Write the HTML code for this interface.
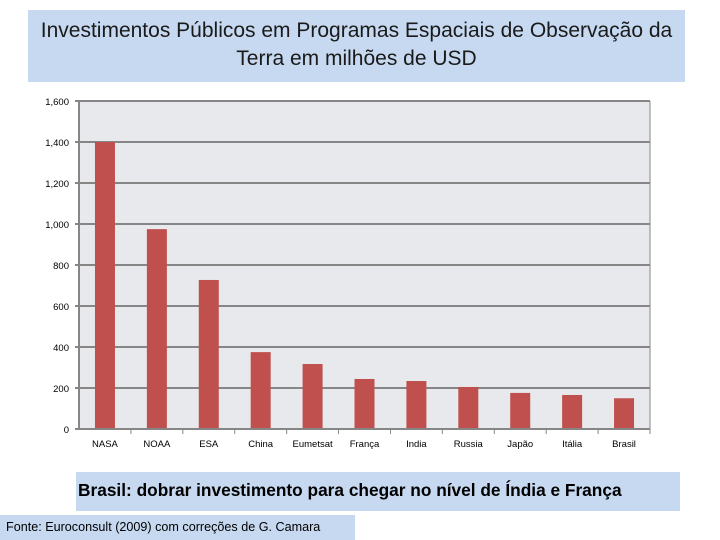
<!DOCTYPE html>
<html><head><meta charset="utf-8"><style>
body{margin:0;width:720px;height:540px;background:#fff;position:relative;overflow:hidden;font-family:"Liberation Sans","DejaVu Sans",sans-serif}
.box{position:absolute;background:#c6d9f0;text-align:center;color:#1a1a1a}
</style></head><body>
<div class="box" style="left:28px;top:10px;width:657px;height:72px;font-size:21px;line-height:28px;padding-top:7px;box-sizing:border-box;white-space:nowrap">Investimentos Públicos em Programas Espaciais de Observação da<br>Terra em milhões de USD</div>
<svg id="chart" width="720" height="540" style="position:absolute;left:0;top:0"></svg>
<div class="box" style="left:76px;top:472px;width:604px;height:39px;font-size:17.3px;font-weight:bold;line-height:36px;color:#000;text-align:left;padding-left:2px;box-sizing:border-box;white-space:nowrap">Brasil: dobrar investimento para chegar no nível de Índia e França</div>
<div class="box" style="left:0;top:515px;width:355px;height:25px;font-size:12.6px;line-height:25px;color:#000;text-align:left;padding-left:6px;box-sizing:border-box;white-space:nowrap">Fonte: Euroconsult (2009) com correções de G. Camara</div>
<script>
const categories=["NASA","NOAA","ESA","China","Eumetsat","França","India","Russia","Japão","Itália","Brasil"];
const values=[1400,975,727,375,317,244,234,205,176,166,150];
const ticks=[0,200,400,600,800,1000,1200,1400,1600];
const tickLabels=["0","200","400","600","800","1,000","1,200","1,400","1,600"];
const svg=document.getElementById('chart');const NS="http://www.w3.org/2000/svg";
const X0=79,X1=650,Y0=429,Y1=101,MAX=1600;
const y=v=>Y0-(v/MAX)*(Y0-Y1);
const bw=(X1-X0)/categories.length;
const xc=i=>X0+bw*(i+0.5);
function mk(t,a){const e=document.createElementNS(NS,t);for(const k in a)e.setAttribute(k,a[k]);svg.appendChild(e);return e;}
const bg=mk('rect',{x:X0,y:Y1,width:X1-X0,height:Y0-Y1,fill:'#e8e9ed'});


ticks.forEach((t,i)=>{
 const l=mk('line',{x1:X0-4,x2:X1,y1:y(t),y2:y(t),stroke:'#868686','stroke-width':2});
 
 
 const tx=mk('text',{x:X0-10,y:y(t)+4,'text-anchor':'end','font-size':9.5,fill:'#000'});
 tx.textContent=tickLabels[i];
 
 
});
const ax=mk('line',{x1:X0,x2:X0,y1:Y1,y2:Y0,stroke:'#868686','stroke-width':2});


const rx=mk('line',{x1:X1,x2:X1,y1:Y1,y2:Y0,stroke:'#868686','stroke-width':1});


categories.forEach((c,i)=>{
 const b=mk('rect',{x:xc(i)-10,y:y(values[i]),width:20,height:Y0-y(values[i]),fill:'#c0504d'});
 
 
 const tk=mk('line',{x1:X0+bw*(i+1),x2:X0+bw*(i+1),y1:Y0,y2:Y0+5,stroke:'#868686'});
 
 
 const t=mk('text',{x:xc(i),y:447,'text-anchor':'middle','font-size':9.5,fill:'#000'});
 t.textContent=c;
 
 
});
const xa=mk('line',{x1:X0-4,x2:X1,y1:Y0,y2:Y0,stroke:'#868686','stroke-width':2});


</script>
</body></html>
